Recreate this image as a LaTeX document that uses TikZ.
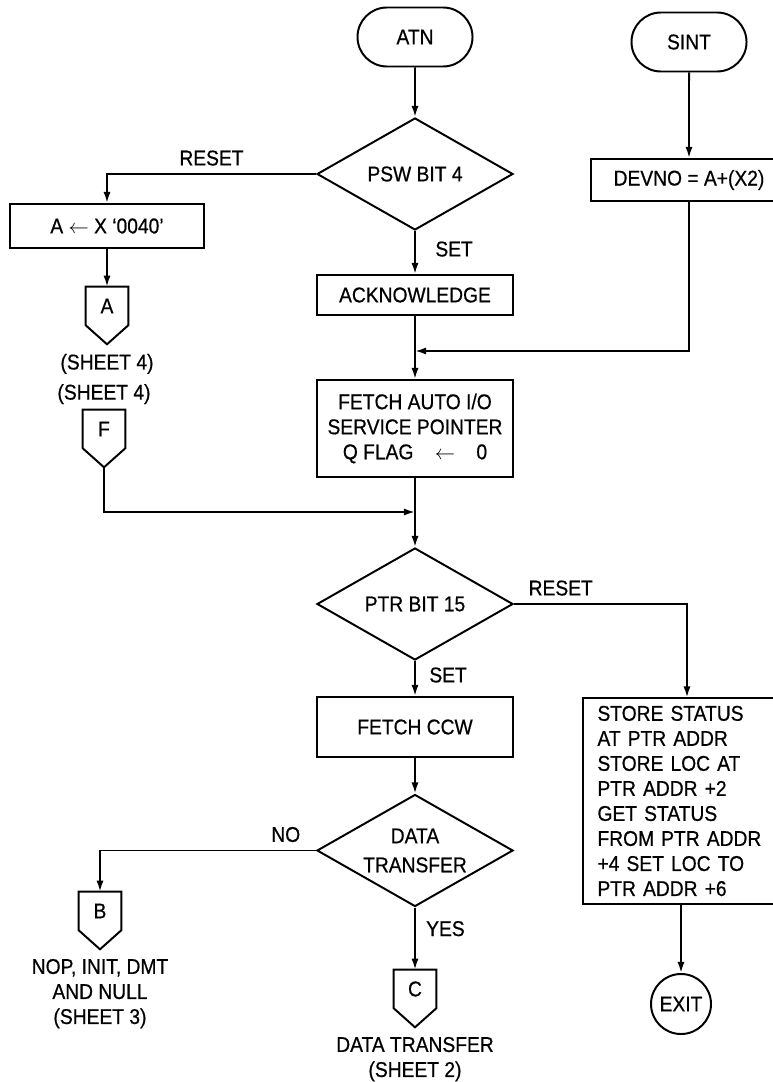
\documentclass[tikz,border=0pt]{standalone}
\usepackage{fontspec}
\setmainfont{Liberation Sans}[FakeStretch=0.9, FakeBold=0.6]
\usepackage{tikz}
\usetikzlibrary{positioning}
\usetikzlibrary{arrows.meta}
\usetikzlibrary{shapes.geometric, shapes.misc}

\newcommand{\chartfont}{\fontsize{15.2}{17.8}\selectfont}

\tikzset {
        termnode/.style={rounded rectangle, draw, line width=1.4pt, inner sep=0pt, minimum width=2.875cm, minimum height=1.475cm},
        decnode/.style={diamond, aspect=1.75, draw, line width=1.4pt, align=center, inner sep=0pt, minimum width=4.9cm, minimum height=2.8cm},
        recnode/.style={rectangle, draw, line width=1.4pt, align=center, inner sep=0pt, minimum width=4.9cm},
        offnode/.style={rectangle, inner sep=0pt, minimum width=1.05cm, minimum height=0.95cm},
        endnode/.style={circle, draw, line width=1.4pt, inner sep=0pt, minimum size=1.5cm},
        lblnode/.style={inner sep=1pt, align=center},
        flow/.style={line width=1.4pt, -{Latex[length=0.28cm,width=0.18cm]}},
        plain/.style={line width=1.4pt}
}

% off-page connector: box with a point underneath (name, position, letter)
\newcommand{\offpage}[3]{
        \node[offnode] (#1) at (#2) {#3};
        \coordinate (#1tip) at ([yshift=-0.475cm]#1.south);
        \draw[plain, line join=miter] (#1.south west) -- (#1.north west) -- (#1.north east) -- (#1.south east) -- (#1tip) -- cycle;
}

\begin{document}
\begin{tikzpicture}[x=0.025cm, y=-0.025cm, every node/.append style={font=\chartfont}]
        \useasboundingbox (0,0) rectangle (772,1082);

        % main column
        \node[termnode] (atn) at (415,37) {ATN};
        \node[decnode] (psw) at (415,174) {PSW BIT 4};
        \node[recnode, minimum height=1cm] (ack) at (415,295) {ACKNOWLEDGE};
        \node[recnode, minimum height=2.425cm] (fetch) at (415,428.5) {
                FETCH AUTO I/O\\SERVICE POINTER\\Q FLAG\quad$\leftarrow$\quad 0
        };
        \node[decnode] (ptr) at (415,604) {PTR BIT 15};
        \node[recnode, minimum height=1.5cm] (ccw) at (415,727) {FETCH CCW};
        \node[decnode] (data) at (415,850.5) {DATA\\[0.1cm]TRANSFER};
        \offpage{cconn}{415,989}{C}
        \node[lblnode, below=0.2cm of cconntip] (sheetC) {DATA TRANSFER\\(SHEET 2)};

        % right column
        \node[termnode] (sint) at (689,42) {SINT};
        \node[recnode, minimum height=1.05cm] (devno) at (689,180) {DEVNO = A+(X2)};
        \node[recnode, align=left, text width=4.475cm, inner xsep=0.35cm, minimum height=5.125cm] (store) at (687,801) {
                STORE STATUS\\AT PTR ADDR\\STORE LOC AT\\PTR ADDR +2\\GET STATUS\\FROM PTR ADDR\\+4 SET LOC TO\\PTR ADDR +6
        };
        \node[endnode] (exit) at (681,1004) {EXIT};

        % left column
        \node[recnode, minimum width=4.825cm, minimum height=1.1cm] (abox) at (107,226) {A $\leftarrow$ X ‘0040’};
        \offpage{aconn}{107,306}{A}
        \node[lblnode, below=0.2cm of aconntip] (sheetA) {(SHEET 4)};
        \offpage{fconn}{104,429}{F}
        \node[lblnode, above=0.1cm of fconn] (sheetF) {(SHEET 4)};
        \offpage{bconn}{100,911}{B}
        \node[lblnode, below=0.2cm of bconntip] (sheetB) {NOP, INIT, DMT\\AND NULL\\(SHEET 3)};

        \coordinate (join1) at (415,351);
        \coordinate (join2) at (415,512);

        % connectors
        \draw[flow] (atn) -- (psw);
        \draw[flow] (psw.west) -| node[lblnode, pos=0.25, above=0.15cm] (rst1) {RESET} (abox.north);
        \draw[flow] (abox) -- (aconn);
        \draw[flow] (psw) -- node[lblnode, pos=0.42, right=0.45cm] (set1) {SET} (ack);
        \draw[flow] (sint) -- (devno);
        \draw[flow] (devno.south) |- (join1);
        \draw[flow] (ack) -- (fetch);
        \draw[flow] (fconntip) |- (join2);
        \draw[flow] (fetch) -- (ptr);
        \draw[flow] (ptr.east) -| node[lblnode, pos=0.135, above=0.15cm] (rst2) {RESET} (store.north);
        \draw[flow] (ptr) -- node[lblnode, pos=0.4, right=0.3cm] (set2) {SET} (ccw);
        \draw[flow] (ccw) -- (data);
        \draw[flow] (data.west) -| node[lblnode, pos=0.07, above=0.15cm] (no) {NO} (bconn.north);
        \draw[flow] (data) -- node[lblnode, pos=0.34, right=0.22cm] (yes) {YES} (cconn);
        \draw[flow] (store.south -| exit.north) -- (exit);
\end{tikzpicture}
\end{document}
